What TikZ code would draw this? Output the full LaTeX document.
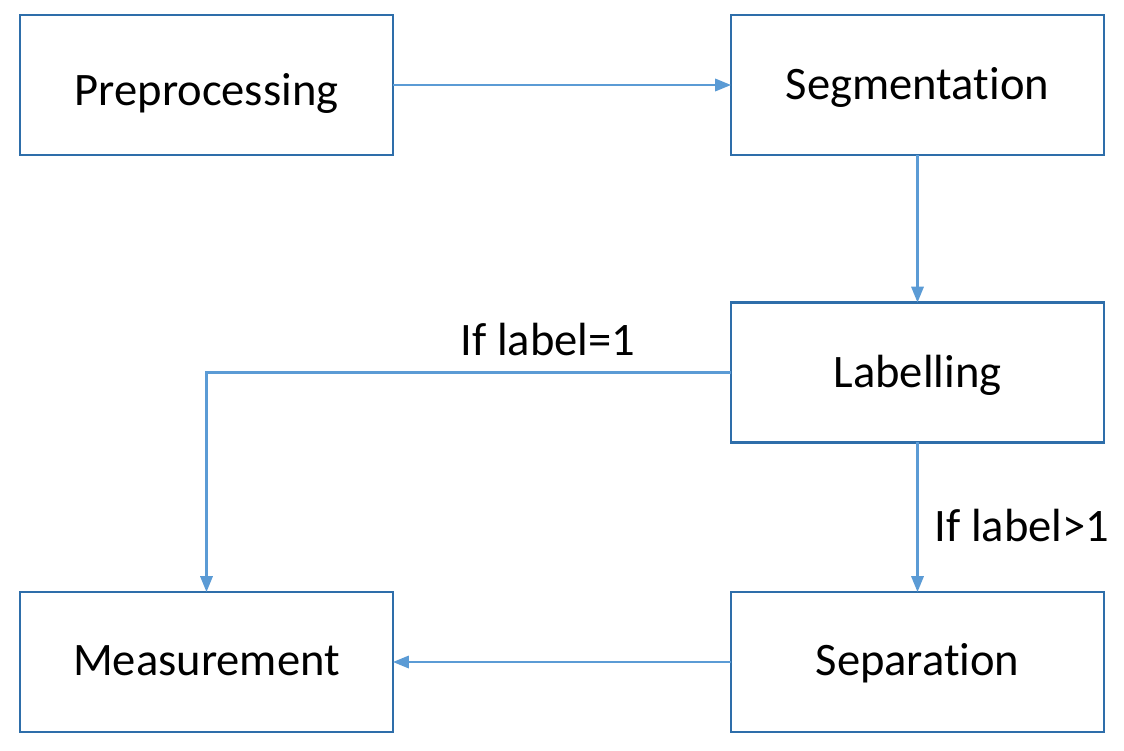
\documentclass[tikz,border=0pt]{standalone}
\usepackage{fontspec}
\setmainfont{Carlito}[Ligatures=NoCommon]
\usetikzlibrary{arrows.meta,positioning}
\definecolor{boxblue}{RGB}{46,110,170}
\definecolor{arrblue}{RGB}{91,155,213}

\begin{document}
\begin{tikzpicture}[x=0.02cm,y=-0.02cm,>={Triangle[length=9pt,width=7pt]},
 box/.style={draw=boxblue,line width=1.2pt,minimum width=7.46cm,minimum height=2.8cm,inner sep=0pt,outer sep=0pt,
  text height=17pt,text depth=0pt,font=\fontsize{26.5}{30}\selectfont},
 flow/.style={->,draw=arrblue,line width=1.3pt},
 cond/.style={font=\fontsize{26.5}{30}\selectfont}]
\useasboundingbox (0,0) rectangle (1124,750);
\node[box,text height=23pt](pre)at(206.5,85){Preprocessing};
\node[box](seg)at(917.5,85){Segmentation};
\node[box](lab)at(917.5,372.5){Labelling};
\node[box,text height=15pt](mea)at(206.5,662){Measurement};
\node[box,text height=15pt](sep)at(917.5,662){Separation};
\draw[flow](pre)--(seg);
\draw[flow](seg)--(lab);
\draw[flow](lab.west)-|(mea.north);
\node[cond](eq)at(548,340){If label=1};
\draw[flow](lab)--(sep);
\node[cond](gt)at(1022,525){If label>1};
\draw[flow](sep)--(mea);
\end{tikzpicture}
\end{document}
